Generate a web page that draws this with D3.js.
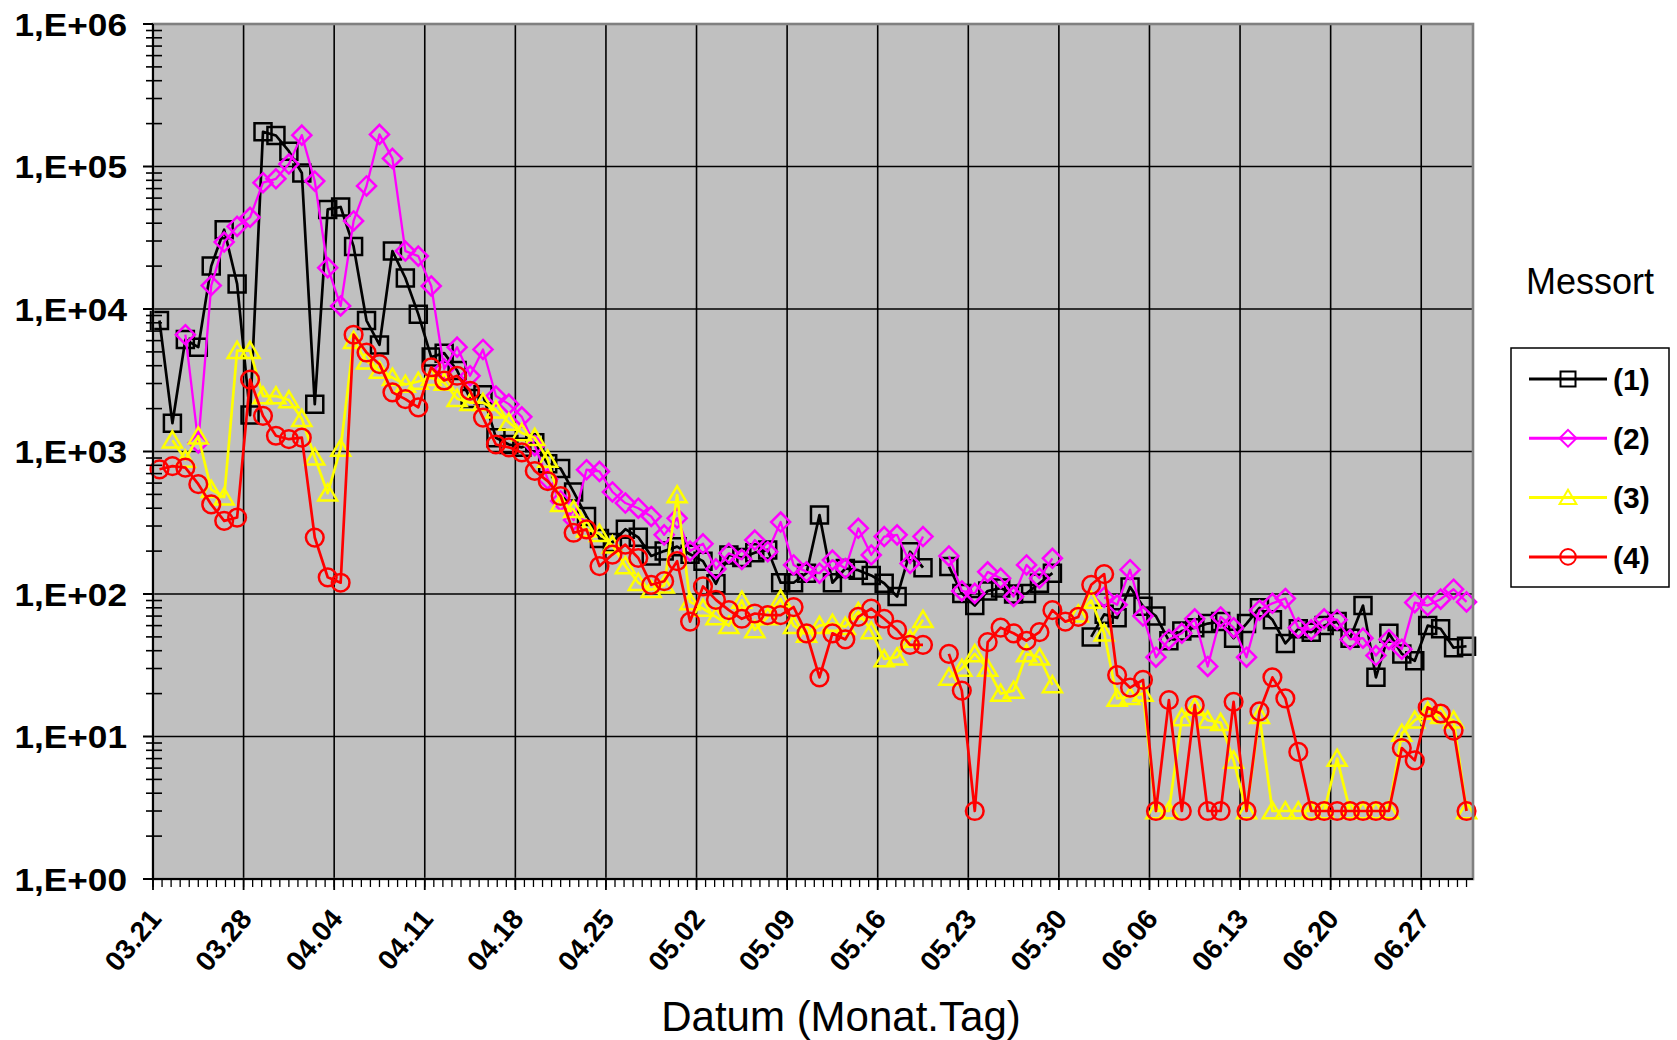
<!DOCTYPE html>
<html>
<head>
<meta charset="utf-8">
<script src="https://cdn.jsdelivr.net/npm/d3@7"></script>
<style>
  html, body { margin: 0; padding: 0; background: #ffffff; }
  svg { display: block; font-family: "Liberation Sans", Arial, sans-serif; }
</style>
</head>
<body>
<svg id="chart" width="1677" height="1040"></svg>
<script>
// Daily categories 03.21 … 06.30
const days = d3.timeDay.range(new Date(2000, 2, 21), new Date(2000, 6, 1)).map(d3.timeFormat("%m.%d"));

// Weekly labelled dates on the x axis
const tickLabels = ["03.21", "03.28", "04.04", "04.11", "04.18", "04.25", "05.02", "05.09",
                    "05.16", "05.23", "05.30", "06.06", "06.13", "06.20", "06.27"];

// Decades on the logarithmic y axis
const yTickValues = [1, 10, 100, 1000, 1e4, 1e5, 1e6];

const seriesNames = ["(1)", "(2)", "(3)", "(4)"];

// Measured values per day (null = no measurement)
const messort1 = [
  8300, 1580, 6100, 5400, 20000, 36000, 15000, 1800, 175000, 165000,
  128000, 90000, 2150, 50000, 52000, 27500, 8300, 5600, 25500, 16500,
  9200, 4600, 4900, 3700, 2350, 2500, 1250, 1120, 1070, 1150,
  820, 760, 520, 350, 245, 230, 285, 250, 185, 200,
  215, 190, 170, 118, 188, 180, 195, 204, 120, 120,
  140, 358, 120, 151, 147, 135, 119, 96, 198, 153,
  null, 156, 101, 83, 105, 110, 100, 101, 119, 140,
  null, null, 50, 72, 68, 112, 82, 70, 47, 55,
  58, 62, 64, 49, 62, 80, 66, 45, 57, 54,
  60, 64, 49, 83, 26, 53, 38, 34, 60, 57,
  42, 43
];
const messort2 = [
  null, null, 6600, 1150, 14600, 29500, 38000, 44000, 77000, 82000,
  104000, 166000, 79000, 19500, 10500, 41500, 73000, 168000, 114000, 25500,
  23500, 14500, 3800, 5400, 3400, 5200, 2450, 2150, 1750, 1100,
  640, 450, 330, 745, 725, 520, 435, 400, 350, 260,
  340, 200, 225, 150, 193, 175, 239, 198, 320, 160,
  143, 140, 173, 151, 289, 188, 253, 260, 164, 253,
  null, 185, 105, 101, 143, 129, 96, 160, 129, 178,
  null, null, null, 95, 84, 148, 70, 36, 48, 53,
  67, 31, 69, 58, 36, 77, 86, 93, 58, 56,
  67, 66, 48, 49, 37, 48, 41, 87, 83, 92,
  108, 88
];
const messort3 = [
  null, 1200, 880, 1280, 540, 478, 5100, 5100, 2450, 2450,
  2300, 1700, 910, 510, 1050, 6000, 4300, 3700, 3300, 2950,
  3100, 3300, 3050, 2350, 2200, 2200, 1950, 1600, 1350, 1250,
  880, 430, 390, 285, 265, 220, 157, 120, 107, 115,
  495, 88, 79, 69, 60, 90, 56, 69, 92, 60,
  52, 60, 62, 59, 75, 55, 35, 36, 48, 66,
  null, 26, 30, 38, 30, 20, 21, 38, 36, 23,
  null, 72, 90, 53, 18.5, 19, 20, 3, 3, 13.5,
  16, 13, 12.5, 6.8, 3, 14, 3, 3, 3, 3,
  3, 7, 3, 3, 3, 3, 10.5, 13, 15, 14,
  13, 3
];
const messort4 = [
  750, 790, 770, 590, 425, 326, 344, 3200, 1780, 1290,
  1220, 1250, 249, 131, 120, 6600, 4950, 4100, 2600, 2330,
  2040, 3900, 3150, 3400, 2670, 1730, 1120, 1070, 985, 730,
  620, 487, 269, 284, 157, 189, 222, 179, 116, 123,
  170, 64, 113, 91, 77, 67, 73, 71, 71, 81,
  53, 26, 53, 48, 69, 79, 67, 56, 44, 44,
  null, 38, 21, 3, 46, 58, 53, 47, 54, 77,
  64, 69, 116, 138, 27, 22, 25, 3, 18, 3,
  16.6, 3, 3, 17.5, 3, 15, 26, 18.5, 7.8, 3,
  3, 3, 3, 3, 3, 3, 8.3, 6.8, 16, 14.5,
  11, 3
];

const seriesValues = [messort1, messort2, messort3, messort4];
const seriesColors = ["#000000", "#ff00ff", "#ffff00", "#ff0000"];
const seriesMarkers = ["square", "diamond", "triangle", "circle"];

// ---- layout ----
const plot = { left: 153, right: 1473, top: 24, bottom: 879 };
const svg = d3.select("#chart");

const x = d3.scaleBand().domain(days).range([plot.left, plot.right]).paddingInner(0).paddingOuter(0);
const xc = d => x(d) + x.bandwidth() / 2;
const y = d3.scaleLog().domain([1, 1e6]).range([plot.bottom, plot.top]);
// continuous day index -> pixel, for minor tick marks
const xDay = d3.scaleLinear().domain([0, days.length]).range([plot.left, plot.right]);

// marker path generators
function markerPath(type, s) {
  const p = d3.path();
  if (type === "square") {
    p.rect(-s / 2, -s / 2, s, s);
  } else if (type === "diamond") {
    const h = s * 0.56;
    p.moveTo(0, -h); p.lineTo(h, 0); p.lineTo(0, h); p.lineTo(-h, 0); p.closePath();
  } else if (type === "triangle") {
    const w = s * 0.56, ht = s * 0.95;
    p.moveTo(0, -ht * 0.55); p.lineTo(w, ht * 0.45); p.lineTo(-w, ht * 0.45); p.closePath();
  } else {
    p.arc(0, 0, s * 0.52, 0, 2 * Math.PI);
  }
  return p.toString();
}

// ---- plot background ----
svg.append("rect")
  .attr("x", plot.left).attr("y", plot.top)
  .attr("width", plot.right - plot.left).attr("height", plot.bottom - plot.top)
  .attr("fill", "#c0c0c0");

// horizontal grid at each decade
svg.append("g").selectAll("line")
  .data(yTickValues.filter(v => v > 1 && v < 1e6))
  .join("line")
  .attr("x1", plot.left).attr("x2", plot.right)
  .attr("y1", d => y(d)).attr("y2", d => y(d))
  .attr("stroke", "#000").attr("stroke-width", 1.6);

// vertical grid at each weekly date
svg.append("g").selectAll("line")
  .data(tickLabels.slice(1))
  .join("line")
  .attr("x1", d => x(d)).attr("x2", d => x(d))
  .attr("y1", plot.top).attr("y2", plot.bottom)
  .attr("stroke", "#000").attr("stroke-width", 1.6);

// ---- series ----
const line = d3.line()
  .defined(d => d.v != null)
  .x(d => xc(d.day))
  .y(d => y(d.v));

seriesValues.forEach((vals, k) => {
  const pts = vals.map((v, i) => ({ day: days[i], v }));
  const g = svg.append("g");
  g.append("path")
    .datum(pts)
    .attr("d", line)
    .attr("fill", "none")
    .attr("stroke", seriesColors[k])
    .attr("stroke-width", k === 1 ? 2.3 : 2.7)
    .attr("stroke-linejoin", "round");
  g.selectAll("path.m")
    .data(pts.filter(d => d.v != null))
    .join("path")
    .attr("class", "m")
    .attr("transform", d => `translate(${xc(d.day)},${y(d.v)})`)
    .attr("d", markerPath(seriesMarkers[k], 17))
    .attr("fill", "none")
    .attr("stroke", seriesColors[k])
    .attr("stroke-width", 2.5);
});

// plot frame
svg.append("rect")
  .attr("x", plot.left).attr("y", plot.top)
  .attr("width", plot.right - plot.left).attr("height", plot.bottom - plot.top)
  .attr("fill", "none").attr("stroke", "#808080").attr("stroke-width", 2.6);

// ---- y axis ----
const yAxis = svg.append("g");
yAxis.append("line")
  .attr("x1", plot.left).attr("x2", plot.left)
  .attr("y1", plot.top).attr("y2", plot.bottom)
  .attr("stroke", "#000").attr("stroke-width", 2);
yAxis.selectAll("line.major")
  .data(yTickValues)
  .join("line").attr("class", "major")
  .attr("x1", plot.left - 10).attr("x2", plot.left)
  .attr("y1", d => y(d)).attr("y2", d => y(d))
  .attr("stroke", "#000").attr("stroke-width", 2);
const minorY = [];
yTickValues.slice(0, -1).forEach(b => { for (let m = 2; m <= 9; m++) minorY.push(b * m); });
yAxis.selectAll("line.minor")
  .data(minorY)
  .join("line").attr("class", "minor")
  .attr("x1", plot.left - 7).attr("x2", plot.left + 9)
  .attr("y1", d => y(d)).attr("y2", d => y(d))
  .attr("stroke", "#000").attr("stroke-width", 1.6);
const fmtExp = v => "1,E+" + String(Math.round(Math.log10(v))).padStart(2, "0");
yAxis.selectAll("text")
  .data(yTickValues)
  .join("text")
  .attr("transform", d => `translate(127,${y(d)}) scale(1.1,1)`)
  .attr("text-anchor", "end")
  .attr("dy", "0.36em")
  .attr("font-size", 32)
  .attr("font-weight", "bold")
  .attr("fill", "#000")
  .text(fmtExp);

// ---- x axis ----
const xAxis = svg.append("g");
xAxis.append("line")
  .attr("x1", plot.left).attr("x2", plot.right)
  .attr("y1", plot.bottom).attr("y2", plot.bottom)
  .attr("stroke", "#000").attr("stroke-width", 2.2);
xAxis.selectAll("line.minor")
  .data(d3.range(0, days.length + 0.01, 0.7))
  .join("line").attr("class", "minor")
  .attr("x1", d => xDay(d)).attr("x2", d => xDay(d))
  .attr("y1", plot.bottom).attr("y2", plot.bottom + 8)
  .attr("stroke", "#000").attr("stroke-width", 1.3);
xAxis.selectAll("line.major")
  .data(tickLabels)
  .join("line").attr("class", "major")
  .attr("x1", d => x(d)).attr("x2", d => x(d))
  .attr("y1", plot.bottom).attr("y2", plot.bottom + 11)
  .attr("stroke", "#000").attr("stroke-width", 1.8);
xAxis.selectAll("text")
  .data(tickLabels)
  .join("text")
  .attr("transform", d => `translate(${x(d) + 2},913) rotate(-50)`)
  .attr("text-anchor", "end")
  .attr("dy", "0.36em")
  .attr("font-size", 28)
  .attr("font-weight", "bold")
  .attr("fill", "#000")
  .text(d => d);

svg.append("text")
  .attr("x", 841).attr("y", 1031)
  .attr("text-anchor", "middle")
  .attr("font-size", 42)
  .attr("fill", "#000")
  .text("Datum (Monat.Tag)");

// ---- legend ----
svg.append("text")
  .attr("x", 1590).attr("y", 294)
  .attr("text-anchor", "middle")
  .attr("font-size", 36)
  .attr("fill", "#000")
  .text("Messort");

const legend = svg.append("g");
legend.append("rect")
  .attr("x", 1511).attr("y", 348).attr("width", 158).attr("height", 239)
  .attr("fill", "#fff").attr("stroke", "#000").attr("stroke-width", 1.5);
seriesNames.forEach((name, k) => {
  const ly = 379 + k * 59.3;
  legend.append("line")
    .attr("x1", 1529).attr("x2", 1607).attr("y1", ly).attr("y2", ly)
    .attr("stroke", seriesColors[k]).attr("stroke-width", 3);
  legend.append("path")
    .attr("transform", `translate(1568,${ly})`)
    .attr("d", markerPath(seriesMarkers[k], 15))
    .attr("fill", "none").attr("stroke", seriesColors[k]).attr("stroke-width", 2);
  legend.append("text")
    .attr("x", 1613).attr("y", ly).attr("dy", "0.36em")
    .attr("font-size", 30).attr("font-weight", "bold").attr("fill", "#000")
    .text(name);
});
</script>
</body>
</html>
